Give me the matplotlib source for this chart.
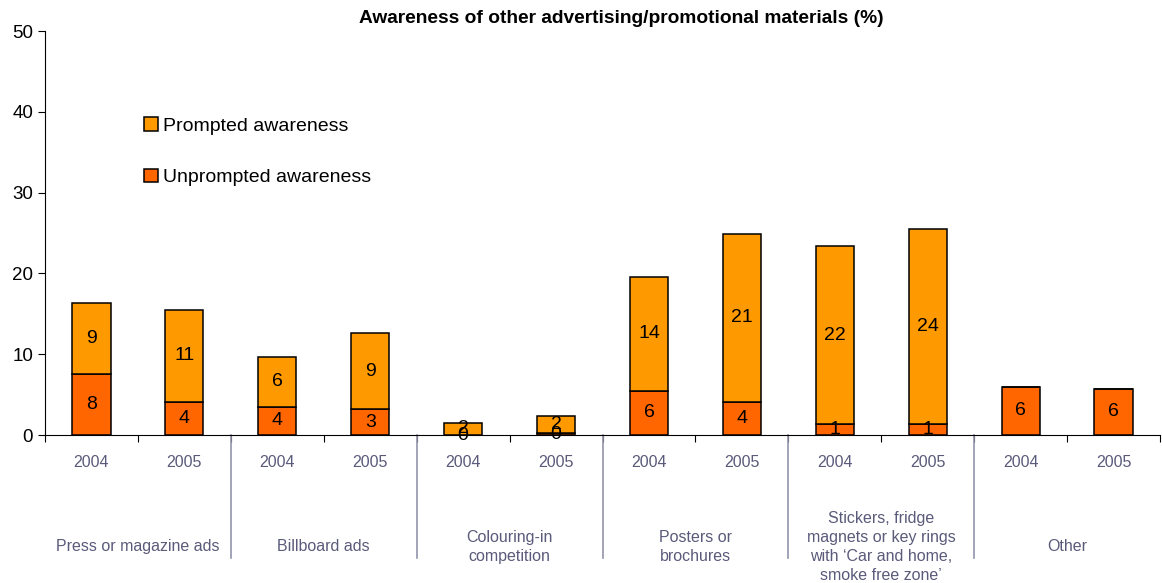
import numpy as np
import matplotlib
matplotlib.use("Agg")
import matplotlib.pyplot as plt

plt.rcParams['font.family'] = ['Liberation Sans', 'DejaVu Sans']

groups = ["Press or magazine ads", "Billboard ads", "Colouring-in\ncompetition",
          "Posters or\nbrochures",
          "Stickers, fridge\nmagnets or key rings\nwith \u2018Car and home,\nsmoke free zone\u2019",
          "Other"]
years = ["2004", "2005"]
unprompted = [7.5, 4.1, 3.5, 3.2, 0.0, 0.2, 5.5, 4.1, 1.3, 1.3, 6.0, 5.7]
prompted = [8.8, 11.4, 6.2, 9.4, 1.5, 2.2, 14.0, 20.8, 22.1, 24.2, 0.0, 0.0]

col_prompted = "#FF9900"
col_unprompted = "#FF6600"
txt_col = "#5A5A7A"

fig = plt.figure(figsize=(11.62, 5.83), dpi=100)
ax = fig.add_axes([45/1162, (583-435)/583, 1115/1162, 404/583])

x = np.arange(len(unprompted)) + 0.5
b1 = ax.bar(x, unprompted, width=0.41, color=col_unprompted, edgecolor='black',
            linewidth=1.1, label='Unprompted awareness')
b2 = ax.bar(x, prompted, width=0.41, bottom=unprompted, color=col_prompted,
            edgecolor='black', linewidth=1.1, label='Prompted awareness')

# data labels, rounded like the source chart
for xi, u, p in zip(x, unprompted, prompted):
    ax.text(xi, u / 2, "%d" % int(u + 0.5), ha='center', va='center', fontsize=14)
    if p > 0:
        ax.text(xi, u + p / 2, "%d" % int(p + 0.5), ha='center', va='center', fontsize=14)

ax.set_xlim(0, 12)
ax.set_ylim(0, 50)
ax.set_yticks([0, 10, 20, 30, 40, 50])
ax.tick_params(axis='y', labelsize=13.5, length=5, direction='out')
ax.set_xticks(np.arange(13))
ax.set_xticklabels([])
ax.tick_params(axis='x', length=5, direction='out')
ax.spines['top'].set_visible(False)
ax.spines['right'].set_visible(False)

# two-level category axis
tr = ax.get_xaxis_transform()
for i, xi in enumerate(x):
    ax.text(xi, -0.067, years[i % 2], transform=tr, ha='center', va='center',
            fontsize=11.5, color=txt_col)
for g, name in enumerate(groups):
    ax.text(2 * g + 1, -0.277, name, transform=tr, ha='center', va='center',
            fontsize=11.5, color=txt_col, linespacing=1.32)
for sep in range(2, 12, 2):
    ax.plot([sep, sep], [0, -0.304], transform=tr, color='#9494AC', lw=1.2,
            clip_on=False)

ax.legend(handles=[b2, b1], loc='upper left', bbox_to_anchor=(0.073, 0.83),
          frameon=False, fontsize=14, handlelength=0.7, handleheight=0.7,
          handletextpad=0.3, labelspacing=1.75)

fig.text(0.535, 0.969, "Awareness of other advertising/promotional materials (%)",
         ha='center', va='center', fontsize=13.8, fontweight='bold')

fig.savefig("out.png", dpi=100)
